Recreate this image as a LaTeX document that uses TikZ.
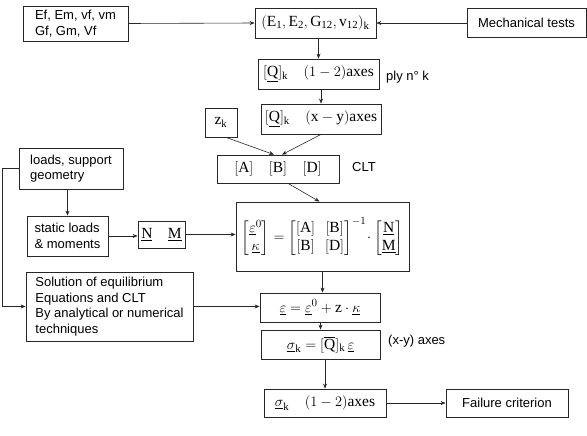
\documentclass[tikz,border=0pt]{standalone}
\usepackage{amsmath}
\usepackage{fontspec}
\setmainfont{Liberation Serif}
\setsansfont{Liberation Sans}
\usetikzlibrary{arrows.meta}
\begin{document}
\begin{tikzpicture}[>={Stealth[length=5pt,width=4pt]}, x=1pt, y=-1pt,
	box/.style={draw=black!85, line width=0.8pt, inner sep=0pt, font=\fontsize{13}{15.5}\selectfont\sffamily},
	mathbox/.style={box, font=\fontsize{15.5}{18}\selectfont},
	lbl/.style={inner sep=0pt, font=\fontsize{13}{15.5}\selectfont\sffamily},
	link/.style={->, draw=black!85, line width=0.6pt}]
		\useasboundingbox (0,0) rectangle (587,436);
		% top row
		\node[box, minimum width=105, minimum height=35, align=left] (ef) at (75.5,23.5) {Ef, Em, vf, vm\\Gf, Gm, Vf};
		\node[mathbox, minimum width=121, minimum height=30] (elast) at (315.5,23) {$(\mathrm{E_1, E_2, G_{12}, v_{12}})_{\mathrm{k}}$};
		\node[box, minimum width=119, minimum height=29] (mech) at (526.5,23) {Mechanical tests};
		% stiffness of ply k
		\node[mathbox, minimum width=121, minimum height=30] (q12) at (318.5,74) {$[\underline{\mathrm{Q}}]_{\mathrm{k}}\quad(1-2)\mathrm{axes}$};
		\node[lbl, anchor=west] (ply) at (386,77) {ply n° k};
		\node[mathbox, minimum width=120, minimum height=30] (qxy) at (321,119) {$[\underline{\mathrm{Q}}]_{\mathrm{k}}\quad(\mathrm{x}-\mathrm{y})\mathrm{axes}$};
		\node[mathbox, minimum width=32, minimum height=29] (zk) at (221,122.5) {$\mathrm{z_k}$};
		\node[mathbox, minimum width=122, minimum height=28] (abd) at (278,169) {$[\mathrm{A}]\quad[\mathrm{B}]\quad[\mathrm{D}]$};
		\node[lbl, anchor=west] (clt) at (352,167) {CLT};
		% loads side
		\node[box, minimum width=104, minimum height=41, align=left] (loads) at (71,168.5) {loads, support\\geometry};
		\node[box, minimum width=81, minimum height=40, align=left] (static) at (67.5,236) {static loads\\\& moments};
		\node[mathbox, minimum width=47, minimum height=27] (nm) at (161.5,234.5) {$\underline{\mathrm{N}}\quad\underline{\mathrm{M}}$};
		\node[mathbox, minimum width=173, minimum height=69] (mat) at (322.5,236.5) {$\begin{bmatrix}\underline{\varepsilon}^{0}\\ \underline{\kappa}\end{bmatrix}=\begin{bmatrix}[\mathrm{A}] & [\mathrm{B}]\\ [\mathrm{B}] & [\mathrm{D}]\end{bmatrix}^{-1}\!\cdot\begin{bmatrix}\underline{\mathrm{N}}\\ \underline{\mathrm{M}}\end{bmatrix}$};
		\node[box, minimum width=167, minimum height=69, align=left] (sol) at (109.5,306.5) {Solution of equilibrium\\Equations and CLT\\By analytical or numerical\\techniques};
		% strains and stresses
		\node[mathbox, minimum width=120, minimum height=29] (eps) at (320,307.5) {$\underline{\varepsilon}=\underline{\varepsilon}^{0}+\mathrm{z}\cdot\underline{\kappa}$};
		\node[mathbox, minimum width=119, minimum height=29] (sig) at (320.5,344.5) {$\underline{\sigma}_{\mathrm{k}}=[\overline{\mathrm{Q}}]_{\mathrm{k}}\,\underline{\varepsilon}$};
		\node[lbl, anchor=west] (xyax) at (388,341) {(x-y) axes};
		\node[mathbox, minimum width=122, minimum height=28] (s12) at (325,403) {$\underline{\sigma}_{\mathrm{k}}\quad(1-2)\mathrm{axes}$};
		\node[box, minimum width=122, minimum height=28] (fail) at (507,403) {Failure criterion};
		% connectors
		\draw[link] (ef.east) -- (elast.west);
		\draw[link] (mech.west) -- (elast.east);
		\draw[link] (q12.north |- elast.south) -- (q12.north);
		\draw[link] (qxy.north |- q12.south) -- (qxy.north);
		\draw[link] ([xshift=5]zk.south) -- ([xshift=-4]abd.north);
		\draw[link] (qxy.south) -- ([xshift=4]abd.north);
		\draw[link] ([xshift=10]abd.south) -- ([xshift=-3]mat.north);
		\draw[link] (static.north |- loads.south) -- (static.north);
		\draw[link] (static.east) -- (static.east -| nm.west);
		\draw[link] (nm.east) -- (nm.east -| mat.west);
		\draw[link] (loads.west) -- ++(-16,0) |- (sol.west);
		\draw[link] (sol.east) -- (sol.east -| eps.west);
		\draw[link] (mat.south) -- (mat.south |- eps.north);
		\draw[link] (sig.north |- eps.south) -- (sig.north);
		\draw[link] (s12.north |- sig.south) -- (s12.north);
		\draw[link] (s12.east) -- (fail.west);
\end{tikzpicture}
\end{document}
